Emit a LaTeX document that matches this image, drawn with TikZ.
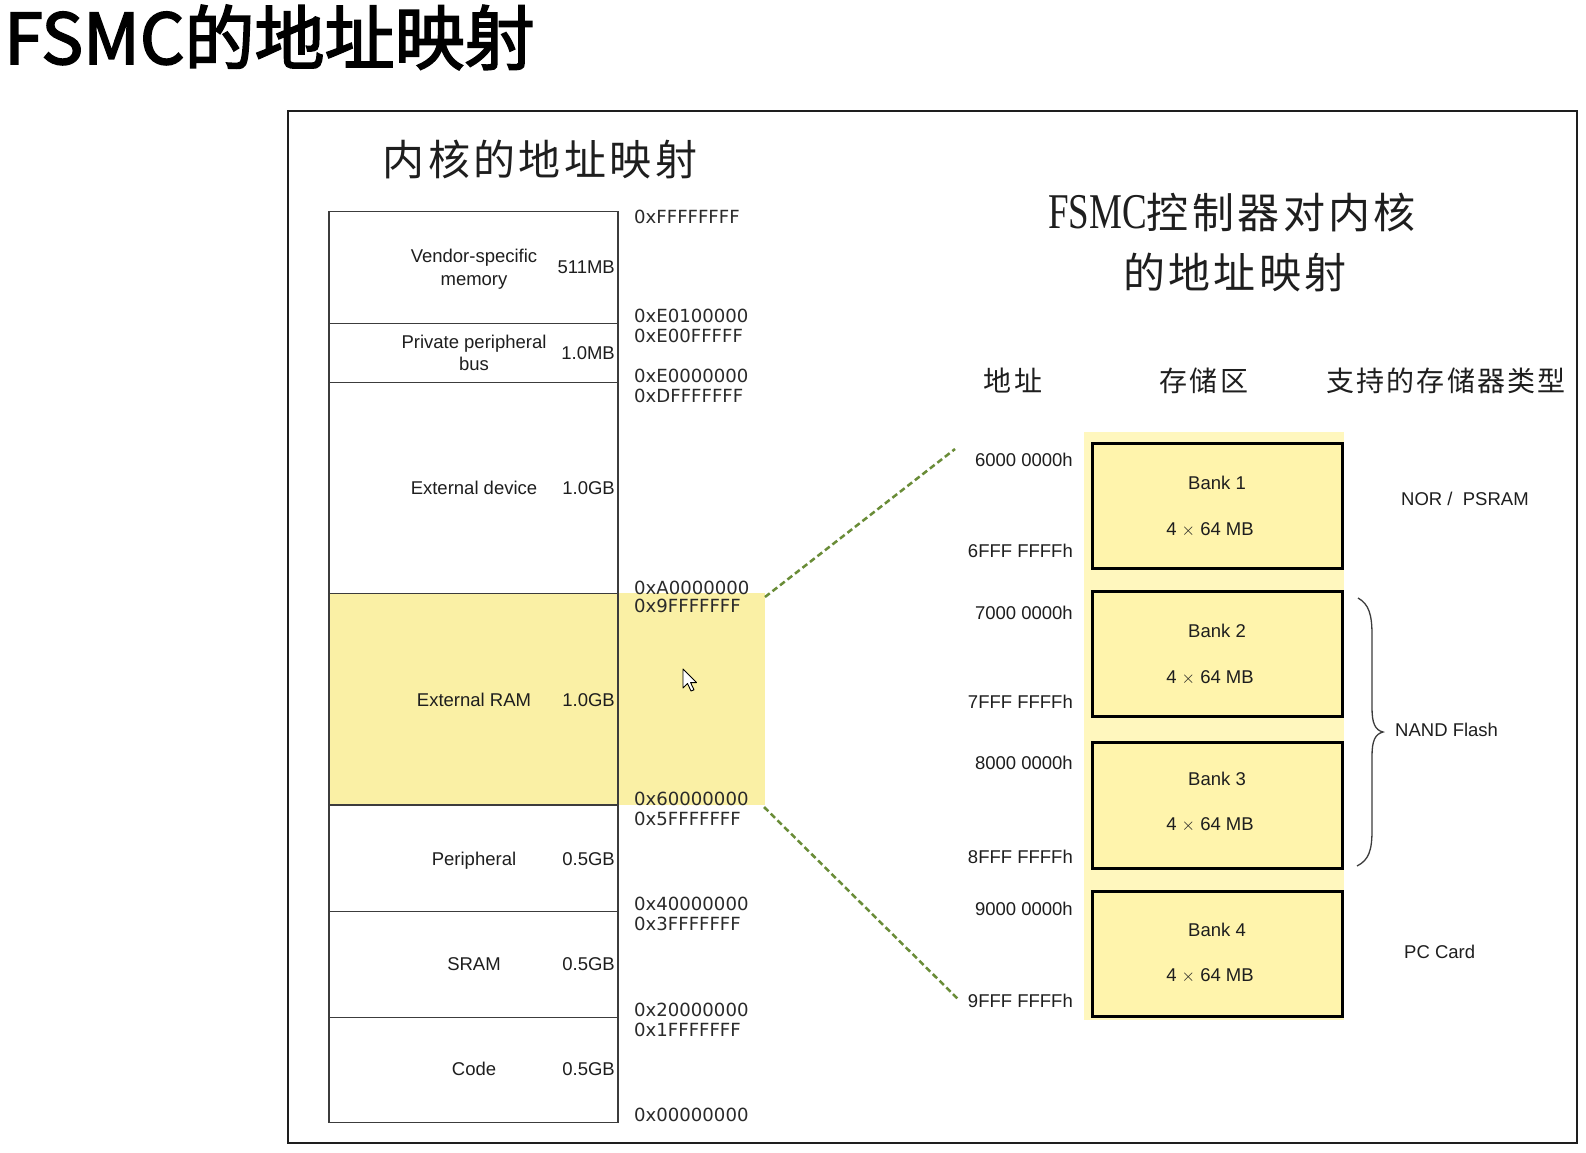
\documentclass[tikz,border=0pt]{standalone}
\usepackage{fontspec}
\setmainfont{Liberation Sans}
\newfontfamily\cjk{Noto Sans CJK SC}[FakeBold=2.5]
\newfontfamily\cjkls{Noto Sans CJK SC}[LetterSpace=8]
\newfontfamily\adrf{DejaVu Sans}
\newfontfamily\fsmcf{Liberation Serif}[FakeStretch=0.74]
\definecolor{txt}{HTML}{1E1E1E}
\definecolor{adrc}{HTML}{2A2A2A}
\definecolor{linec}{HTML}{3C3C3C}
\definecolor{ramyel}{RGB}{250,240,165}
\definecolor{stripyel}{RGB}{255,247,190}
\definecolor{bankyel}{RGB}{255,244,172}
\definecolor{dashg}{RGB}{105,140,55}
\tikzset{
  lbl/.style={font=\fontsize{18.5}{22}\selectfont, text=txt, inner sep=0pt, anchor=base},
  szl/.style={lbl, anchor=base east},
  adr/.style={font=\adrf\fontsize{18.1}{18}\selectfont, text=adrc, inner sep=0pt, anchor=base west},
  badr/.style={lbl, anchor=base east},
  rlbl/.style={lbl, anchor=base west},
  hd/.style={font=\cjkls\fontsize{28}{28}\selectfont, text=txt, inner sep=0pt, anchor=base},
  ttl/.style={font=\cjkls\fontsize{42}{42}\selectfont, text=txt, inner sep=0pt, anchor=base},
  bankbox/.style={draw=black, line width=3pt, fill=bankyel},
  memline/.style={draw=linec, line width=1.3pt},
  link/.style={draw=dashg, line width=2.5pt, dash pattern=on 6pt off 3.5pt}
}
\begin{document}
\begin{tikzpicture}[x=1pt,y=-1pt]
\useasboundingbox (0,0) rectangle (1586,1152);
\fill[white] (0,0) rectangle (1586,1152);

% main title
\node[font=\cjk\fontsize{70}{70}\selectfont, text=black, inner sep=0pt, anchor=base west] (title) at (4,64) {FSMC的地址映射};

% outer frame
\draw[line width=2pt, draw=txt] (288,111) rectangle (1577,1143);

% left subtitle
\node[ttl] (sub) at (540,175) {内核的地址映射};

% yellow RAM region
\fill[ramyel] (329,593.3) rectangle (765,805);

% memory map column
\draw[memline] (329,211.7) rectangle (618,1122.3);
\foreach \yy in {323.3,382.7,593.3,805,911.7,1017.3}
  \draw[memline] (329,\yy) -- (618,\yy);

% cell labels
\node[lbl] (v1) at (474,262.5) {Vendor-specific};
\node[lbl] (v2) at (474,285) {memory};
\node[szl] (vsz) at (615,273) {511MB};
\node[lbl] (p1) at (474,348.3) {Private peripheral};
\node[lbl] (p2) at (474,370) {bus};
\node[szl] (psz) at (615,359) {1.0MB};
\node[lbl] (ed) at (474,494) {External device};
\node[szl] (edsz) at (615,494) {1.0GB};
\node[lbl] (er) at (474,706.5) {External RAM};
\node[szl] (ersz) at (615,706.5) {1.0GB};
\node[lbl] (pe) at (474,865) {Peripheral};
\node[szl] (pesz) at (615,865) {0.5GB};
\node[lbl] (sr) at (474,970.5) {SRAM};
\node[szl] (srsz) at (615,970.5) {0.5GB};
\node[lbl] (co) at (474,1075.7) {Code};
\node[szl] (cosz) at (615,1075.7) {0.5GB};

% addresses
\node[adr] (a1) at (634,223.3) {0xFFFFFFFF};
\node[adr] (a2) at (634,322.7) {0xE0100000};
\node[adr] (a3) at (634,342.3) {0xE00FFFFF};
\node[adr] (a4) at (634,382.3) {0xE0000000};
\node[adr] (a5) at (634,402) {0xDFFFFFFF};
\node[adr] (a6) at (634,594) {0xA0000000};
\node[adr] (a7) at (634,612.7) {0x9FFFFFFF};
\node[adr] (a8) at (634,805) {0x60000000};
\node[adr] (a9) at (634,825) {0x5FFFFFFF};
\node[adr] (a10) at (634,910.7) {0x40000000};
\node[adr] (a11) at (634,930.7) {0x3FFFFFFF};
\node[adr] (a12) at (634,1016.7) {0x20000000};
\node[adr] (a13) at (634,1036) {0x1FFFFFFF};
\node[adr] (a14) at (634,1121.7) {0x00000000};

% mouse cursor
\draw[fill=white, draw=black, line width=0.9pt, line join=round, shift={(683,669)}]
  (0,0) -- (0,19) -- (4.5,14.5) -- (8,22) -- (11,20.8) -- (7.6,13.6) -- (13.5,13.6) -- cycle;

% right title
\node[ttl] (rt1) at (1232,228) {{\fsmcf\fontsize{50}{50}\selectfont FSMC}控制器对内核};
\node[ttl] (rt2) at (1235,288) {的地址映射};

% column headers
\node[hd] (h1) at (1013,391) {地址};
\node[hd] (h2) at (1204,391) {存储区};
\node[hd] (h3) at (1446,391) {支持的存储器类型};

% bank strip
\fill[stripyel] (1084,432) rectangle (1344,1020);

% banks
\foreach \n/\t/\dy in {1/443/0,2/591/0,3/742.5/-4,4/891/-1.5}{
  \draw[bankbox] (1092.5,\t) rectangle (1342,\t+125.5);
  \node[lbl] (bt\n) at (1217,\t+46.5+\dy) {Bank \n};
  \node[lbl] (bs\n) at (1210,\t+92+\dy) {4 $\times$ 64 MB};
}

% bank addresses
\node[badr] (ba1) at (1073,466.7) {6000 0000h};
\node[badr] (ba2) at (1073,557.3) {6FFF FFFFh};
\node[badr] (ba3) at (1073,619.3) {7000 0000h};
\node[badr] (ba4) at (1073,708.3) {7FFF FFFFh};
\node[badr] (ba5) at (1073,769.3) {8000 0000h};
\node[badr] (ba6) at (1073,863) {8FFF FFFFh};
\node[badr] (ba7) at (1073,915) {9000 0000h};
\node[badr] (ba8) at (1073,1007.3) {9FFF FFFFh};

% memory types
\node[rlbl] (nor) at (1401,505) {NOR /\ \ PSRAM};
\node[rlbl] (nand) at (1395,736) {NAND Flash};
\node[rlbl] (pc) at (1404,958.5) {PC Card};

% brace
\draw[draw=linec, line width=1.3pt]
  (1358,598) .. controls (1369,604) and (1372,615) .. (1372,635)
  -- (1372,708) .. controls (1372,723) and (1375,730) .. (1383,732)
  .. controls (1375,734) and (1372,741) .. (1372,756)
  -- (1372,830) .. controls (1372,850) and (1369,860) .. (1357,866);

% links
\coordinate (ramtop) at (765,597);
\coordinate (ramBot) at (764,807);
\coordinate (bankTop) at (955,449);
\coordinate (bankBot) at (958,999);
\draw[link] (ramtop) -- (bankTop);
\draw[link] (ramBot) -- (bankBot);
\end{tikzpicture}
\end{document}
